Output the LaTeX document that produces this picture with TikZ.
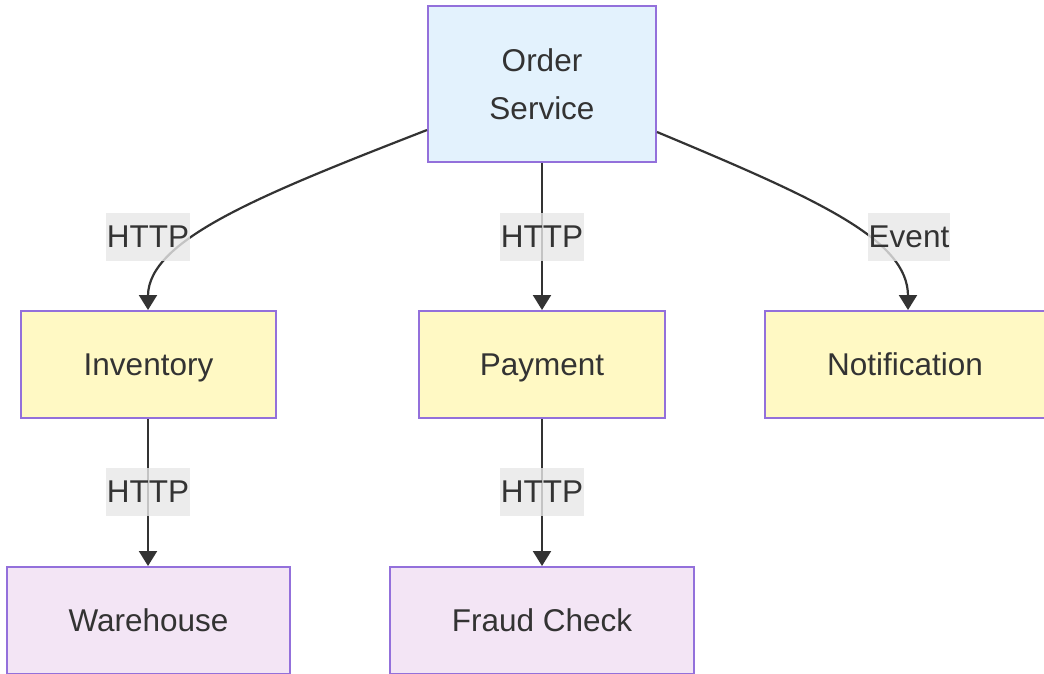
\documentclass[tikz,border=0pt]{standalone}
\usepackage{fontspec}
\setmainfont{Liberation Sans}
\usetikzlibrary{arrows.meta}
\definecolor{ink}{HTML}{333333}
\definecolor{edgepurple}{HTML}{9370DB}
\definecolor{svcblue}{HTML}{E3F2FD}
\definecolor{svcyellow}{HTML}{FFF9C4}
\definecolor{svcpurple}{HTML}{F3E5F5}
\definecolor{labelbg}{HTML}{E8E8E8}
\begin{document}
\begin{tikzpicture}[x=1pt,y=-1pt,
  box/.style={draw=edgepurple, line width=2pt, text=ink, align=center,
    font=\fontsize{31.5}{48}\selectfont, inner sep=0pt},
  root/.style={box, fill=svcblue, minimum width=228pt, minimum height=156pt},
  single/.style={text height=22.5pt, text depth=0pt},
  mid/.style={box, single, fill=svcyellow, minimum height=107pt},
  leaf/.style={box, single, fill=svcpurple, minimum height=107pt},
  link/.style={draw=ink, line width=2.2pt, -{Triangle[length=15pt,width=18pt]}},
  tag/.style={fill=labelbg, fill opacity=0.8, text opacity=1, text=ink,
    font=\fontsize{31.5}{38}\selectfont, inner xsep=1pt, inner ysep=0pt,
    minimum height=48pt}]
\clip (0,0) rectangle (1044,673);
\fill[white] (0,0) rectangle (1044,673);

% services
\node[root] (order) at (542,84) {Order\\Service};
\node[mid, minimum width=255pt] (inv) at (148.5,364.5) {Inventory};
\node[mid, minimum width=246pt] (pay) at (542,364.5) {Payment};
\node[mid, minimum width=280pt] (notif) at (905,364.5) {Notification};
\node[leaf, minimum width=283pt] (ware) at (148.5,620.5) {Warehouse};
\node[leaf, minimum width=304pt] (fraud) at (542,620.5) {Fraud Check};

% bend points just above the curved arrow heads
\coordinate (invin) at (148,296);
\coordinate (notifin) at (908,296);

% connectors
\draw[link] ([yshift=-46pt]order.west) .. controls (260,195) and (148,240) .. (invin) -- (invin |- inv.north);
\draw[link] (order.south) -- (pay.north);
\draw[link] ([yshift=-48pt]order.east) .. controls (820,200) and (908,240) .. (notifin) -- (notifin |- notif.north);
\draw[link] (inv.south -| invin) -- (ware.north -| invin);
\draw[link] (pay.south) -- (fraud.north);

% connector labels
\node[tag] (l1) at (148,237) {HTTP};
\node[tag] (l2) at (542,237) {HTTP};
\node[tag] (l3) at (909,237) {Event};
\node[tag] (l4) at (148,492) {HTTP};
\node[tag] (l5) at (542,492) {HTTP};
\end{tikzpicture}
\end{document}
